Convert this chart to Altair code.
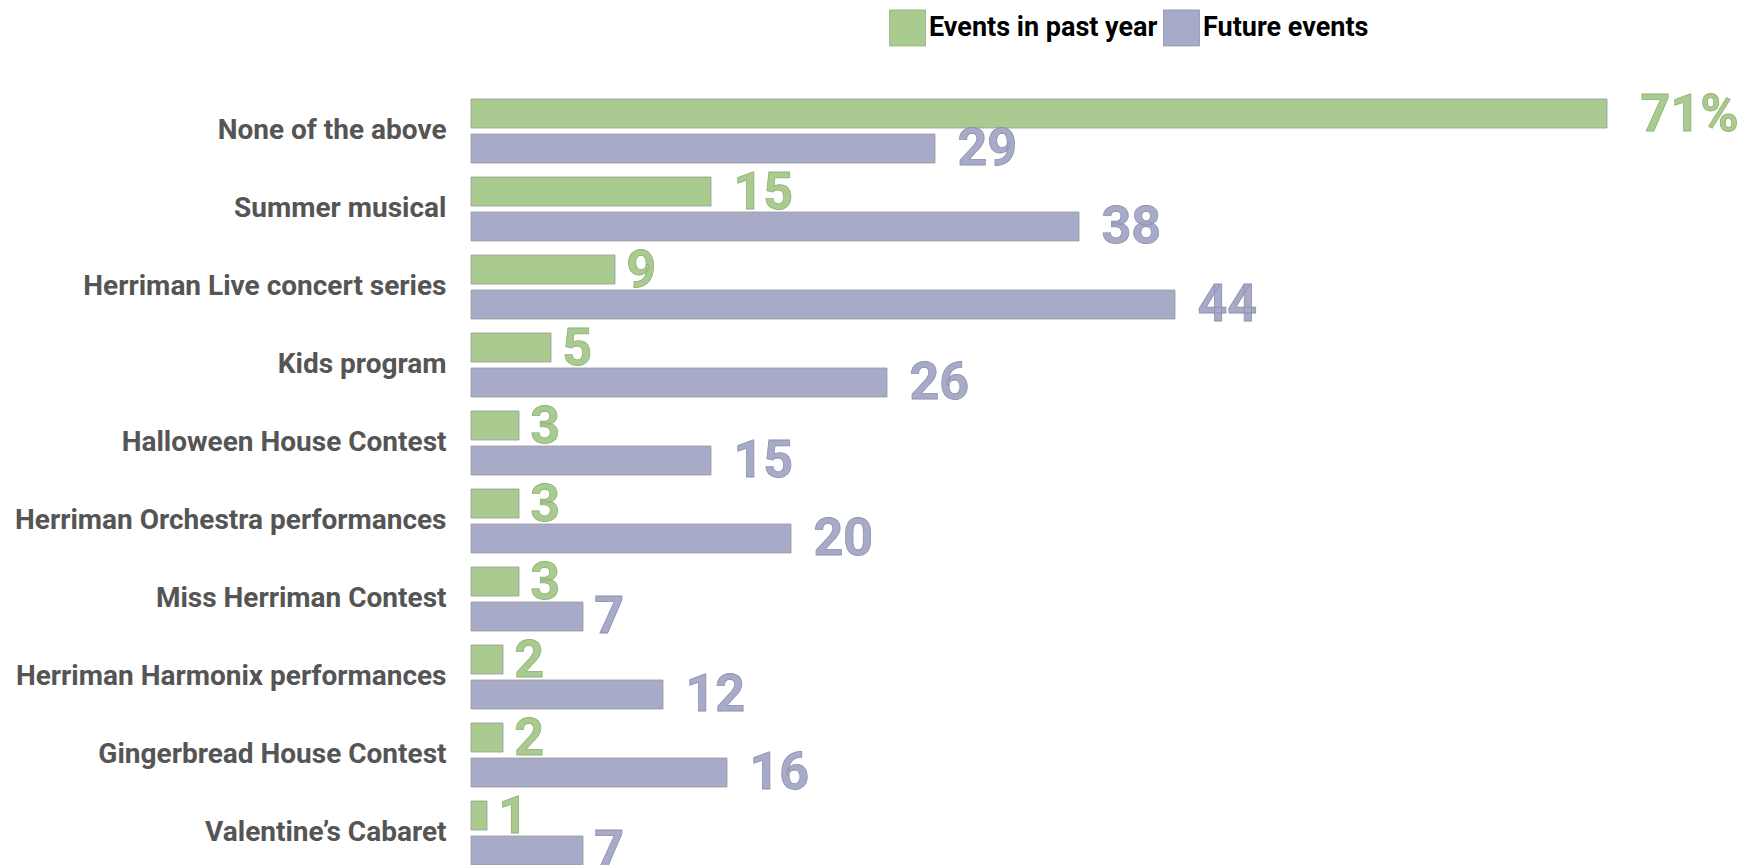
import altair as alt
import pandas as pd

categories = [
    "None of the above",
    "Summer musical",
    "Herriman Live concert series",
    "Kids program",
    "Halloween House Contest",
    "Herriman Orchestra performances",
    "Miss Herriman Contest",
    "Herriman Harmonix performances",
    "Gingerbread House Contest",
    "Valentine\u2019s Cabaret",
]
series_names = ["Events in past year", "Future events"]
past_values = [71, 15, 9, 5, 3, 3, 3, 2, 2, 1]
future_values = [29, 38, 44, 26, 15, 20, 7, 12, 16, 7]
past_labels = ["71%", "15", "9", "5", "3", "3", "3", "2", "2", "1"]
future_labels = ["29", "38", "44", "26", "15", "20", "7", "12", "16", "7"]

fill_colors = ["#aacb90", "#a8abc7"]
text_strokes = ["#8fb276", "#8e91b0"]

rows = []
for c, v, l in zip(categories, past_values, past_labels):
    rows.append({"category": c, "series": series_names[0], "value": v, "label": l})
for c, v, l in zip(categories, future_values, future_labels):
    rows.append({"category": c, "series": series_names[1], "value": v, "label": l})
df = pd.DataFrame(rows)

FONT = "Roboto"

y_enc = alt.Y(
    "category:N",
    sort=categories,
    scale=alt.Scale(paddingInner=14 / 78, paddingOuter=7 / 78),
    axis=alt.Axis(
        title=None,
        ticks=False,
        domain=False,
        labelPadding=25,
        labelFont=FONT,
        labelFontSize=28,
        labelFontWeight="bold",
        labelColor="#555555",
        labelLimit=600,
        labelBaseline="middle",
    ),
)
yoff_enc = alt.YOffset(
    "series:N", sort=series_names, scale=alt.Scale(paddingInner=0.171, paddingOuter=0)
)
x_scale = alt.Scale(domain=[0, 75], nice=False)

bars = alt.Chart(df).mark_bar(stroke="#9a9a9a", strokeWidth=0.8).encode(
    y=y_enc,
    yOffset=yoff_enc,
    x=alt.X("value:Q", scale=x_scale, axis=None),
    color=alt.Color(
        "series:N",
        sort=series_names,
        scale=alt.Scale(domain=series_names, range=fill_colors),
        legend=alt.Legend(
            title=None,
            orient="none",
            direction="horizontal",
            legendX=418,
            legendY=-83,
            padding=0,
            symbolType="square",
            symbolSize=1296,
            symbolStrokeColor="#9a9a9a",
            symbolStrokeWidth=0.8,
            symbolOpacity=1,
            labelFont=FONT,
            labelFontSize=27,
            labelFontWeight="bold",
            labelColor="#000000",
            labelOffset=3,
            columnPadding=3,
            labelLimit=400,
        ),
    ),
)

texts = (
    alt.Chart(df)
    .transform_calculate(label_pos="datum.value + 0.7 * length(datum.label)")
    .mark_text(
        align="left", baseline="middle", dy=1, font=FONT, fontSize=52,
        fontWeight="bold", strokeWidth=0.8,
    )
    .encode(
        y=y_enc,
        yOffset=yoff_enc,
        x=alt.X("label_pos:Q", scale=x_scale, axis=None),
        text="label:N",
        color=alt.Color("series:N", sort=series_names,
                        scale=alt.Scale(domain=series_names, range=fill_colors), legend=None),
        stroke=alt.Stroke("series:N", scale=alt.Scale(domain=series_names, range=text_strokes),
                          legend=None),
    )
)

chart = (
    alt.layer(bars, texts)
    .properties(
        width=1200,
        height=780,
        autosize=alt.AutoSizeParams(type="none"),
        padding={"left": 463, "top": 84, "right": 70, "bottom": 10},
    )
    .configure_view(stroke=None)
)

chart.save("out.html", embed_options={"renderer": "svg", "actions": False})
